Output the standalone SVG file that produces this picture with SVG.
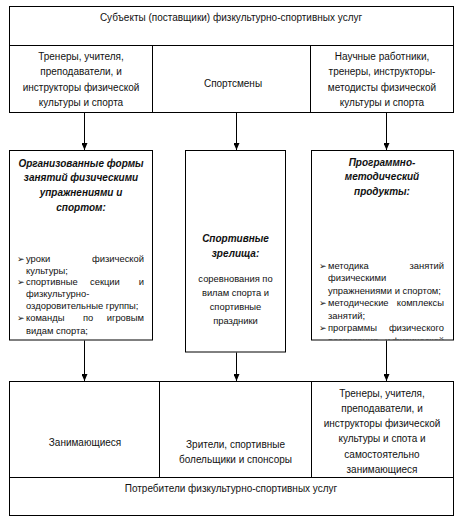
<svg xmlns="http://www.w3.org/2000/svg" width="461" height="524" viewBox="0 0 461 524">
<style>
  .box{fill:#fff;stroke:#000;stroke-width:1}
  text{font-family:"Liberation Sans",Arial,sans-serif;font-size:10px;fill:#111}
  .c{text-anchor:middle}
  .e{text-anchor:end}
  .h{font-weight:bold;font-style:italic}
  .s{font-size:9.4px}
  .b{font-family:"DejaVu Sans",sans-serif;font-size:9px}
  .conn{stroke:#000;stroke-width:1;fill:none}
</style>
<defs>
  <marker id="ah" markerUnits="userSpaceOnUse" markerWidth="7" markerHeight="6" refX="7" refY="3" orient="auto" viewBox="0 0 7 6">
    <path d="M0,0 L7,3 L0,6 z" fill="#000"/>
  </marker>
  <clipPath id="clipR"><rect x="311" y="150" width="142" height="189.5"/></clipPath>
</defs>
<rect width="461" height="524" fill="#fff"/>

<g id="subjects">
  <rect class="box" x="9.5" y="6.5" width="444" height="39"/>
  <text class="c" x="231" y="21">Субъекты (поставщики) физкультурно-спортивных услуг</text>
</g>
<g id="trainers-top">
  <rect class="box" x="9.5" y="45.5" width="143" height="67"/>
  <text class="c" x="81" y="59.5">Тренеры, учителя,</text>
  <text class="c" x="81" y="75">преподаватели, и</text>
  <text class="c" x="81" y="90.5">инструкторы физической</text>
  <text class="c" x="81" y="106">культуры и спорта</text>
</g>
<g id="athletes">
  <rect class="box" x="152.5" y="45.5" width="158" height="67"/>
  <text class="c" x="233" y="86.5">Спортсмены</text>
</g>
<g id="scientists">
  <rect class="box" x="310.5" y="45.5" width="143" height="67"/>
  <text class="c" x="382" y="60">Научные работники,</text>
  <text class="c" x="382" y="75">тренеры, инструкторы-</text>
  <text class="c" x="382" y="90.5">методисты физической</text>
  <text class="c" x="382" y="106">культуры и спорта</text>
</g>

<g id="organized-forms">
  <rect class="box" x="9.5" y="150.5" width="143" height="189.5"/>
  <text class="c h" x="81" y="166.5">Организованные формы</text>
  <text class="c h" x="81" y="181">занятий физическими</text>
  <text class="c h" x="81" y="196">упражнениями и</text>
  <text class="c h" x="81" y="211">спортом:</text>
  <text class="b" x="17" y="262">➢</text>
  <text class="s" x="26" y="262">уроки</text>
  <text class="s e" x="144" y="262">физической</text>
  <text class="s" x="26" y="273.5">культуры;</text>
  <text class="b" x="17" y="285">➢</text>
  <text class="s" x="26" y="285">спортивные</text>
  <text class="s" x="90" y="285">секции</text>
  <text class="s e" x="144" y="285">и</text>
  <text class="s" x="26" y="297">физкультурно-</text>
  <text class="s" x="26" y="309">оздоровительные группы;</text>
  <text class="b" x="17" y="321">➢</text>
  <text class="s" x="26" y="321">команды</text>
  <text class="s" x="83" y="321">по</text>
  <text class="s e" x="144" y="321">игровым</text>
  <text class="s" x="26" y="334">видам спорта;</text>
</g>

<g id="spectacles">
  <rect class="box" x="185.5" y="150.5" width="100" height="201.5"/>
  <text class="c h" x="235.5" y="241.5">Спортивные</text>
  <text class="c h" x="235.5" y="256.5">зрелища:</text>
  <text class="c s" x="235.5" y="281.5">соревнования по</text>
  <text class="c s" x="235.5" y="296">вилам спорта и</text>
  <text class="c s" x="235.5" y="310">спортивные</text>
  <text class="c s" x="235.5" y="324">праздники</text>
</g>

<g id="method-products">
  <rect class="box" x="311.5" y="150.5" width="142" height="189.5"/>
  <text class="c h" x="382" y="166">Программно-</text>
  <text class="c h" x="382" y="180">методический</text>
  <text class="c h" x="382" y="195">продукты:</text>
  <g clip-path="url(#clipR)">
    <text class="b" x="319" y="268.5">➢</text>
    <text class="s" x="328" y="268.5">методика</text>
    <text class="s e" x="444" y="268.5">занятий</text>
    <text class="s" x="328" y="281">физическими</text>
    <text class="s" x="328" y="293.5">упражнениями и спортом;</text>
    <text class="b" x="319" y="306">➢</text>
    <text class="s" x="328" y="306">методические</text>
    <text class="s e" x="444" y="306">комплексы</text>
    <text class="s" x="328" y="318.5">занятий;</text>
    <text class="b" x="319" y="331">➢</text>
    <text class="s" x="328" y="331">программы</text>
    <text class="s e" x="444" y="331">физического</text>
    <text class="s" x="328" y="343.5">воспитания</text>
    <text class="s" x="385" y="343.5">и</text>
    <text class="s e" x="444" y="343.5">физической</text>
  </g>
</g>

<g id="practitioners">
  <rect class="box" x="9.5" y="381.5" width="150" height="96"/>
  <text class="c" x="85" y="446">Занимающиеся</text>
</g>
<g id="spectators">
  <rect class="box" x="159.5" y="381.5" width="152" height="96"/>
  <text class="c" x="235.5" y="447.5">Зрители, спортивные</text>
  <text class="c" x="235.5" y="462.5">болельщики и спонсоры</text>
</g>
<g id="trainers-bottom">
  <rect class="box" x="311.5" y="381.5" width="142" height="96"/>
  <text class="c" x="382" y="396.5">Тренеры, учителя,</text>
  <text class="c" x="382" y="411.5">преподаватели, и</text>
  <text class="c" x="382" y="426.5">инструкторы физической</text>
  <text class="c" x="382" y="442">культуры и спота и</text>
  <text class="c" x="382" y="457.5">самостоятельно</text>
  <text class="c" x="382" y="472.5">занимающиеся</text>
</g>
<g id="consumers">
  <rect class="box" x="9.5" y="477.5" width="444" height="38"/>
  <text class="c" x="231" y="491.5">Потребители физкультурно-спортивных услуг</text>
</g>

<g id="connectors">
  <path class="conn" d="M84.5,113 V150" marker-end="url(#ah)"/>
  <path class="conn" d="M236.5,113 V150" marker-end="url(#ah)"/>
  <path class="conn" d="M386.5,113 V150" marker-end="url(#ah)"/>
  <path class="conn" d="M84.5,340.5 V381" marker-end="url(#ah)"/>
  <path class="conn" d="M236.5,352.5 V381" marker-end="url(#ah)"/>
  <path class="conn" d="M386.5,340.5 V381" marker-end="url(#ah)"/>
</g>
</svg>
